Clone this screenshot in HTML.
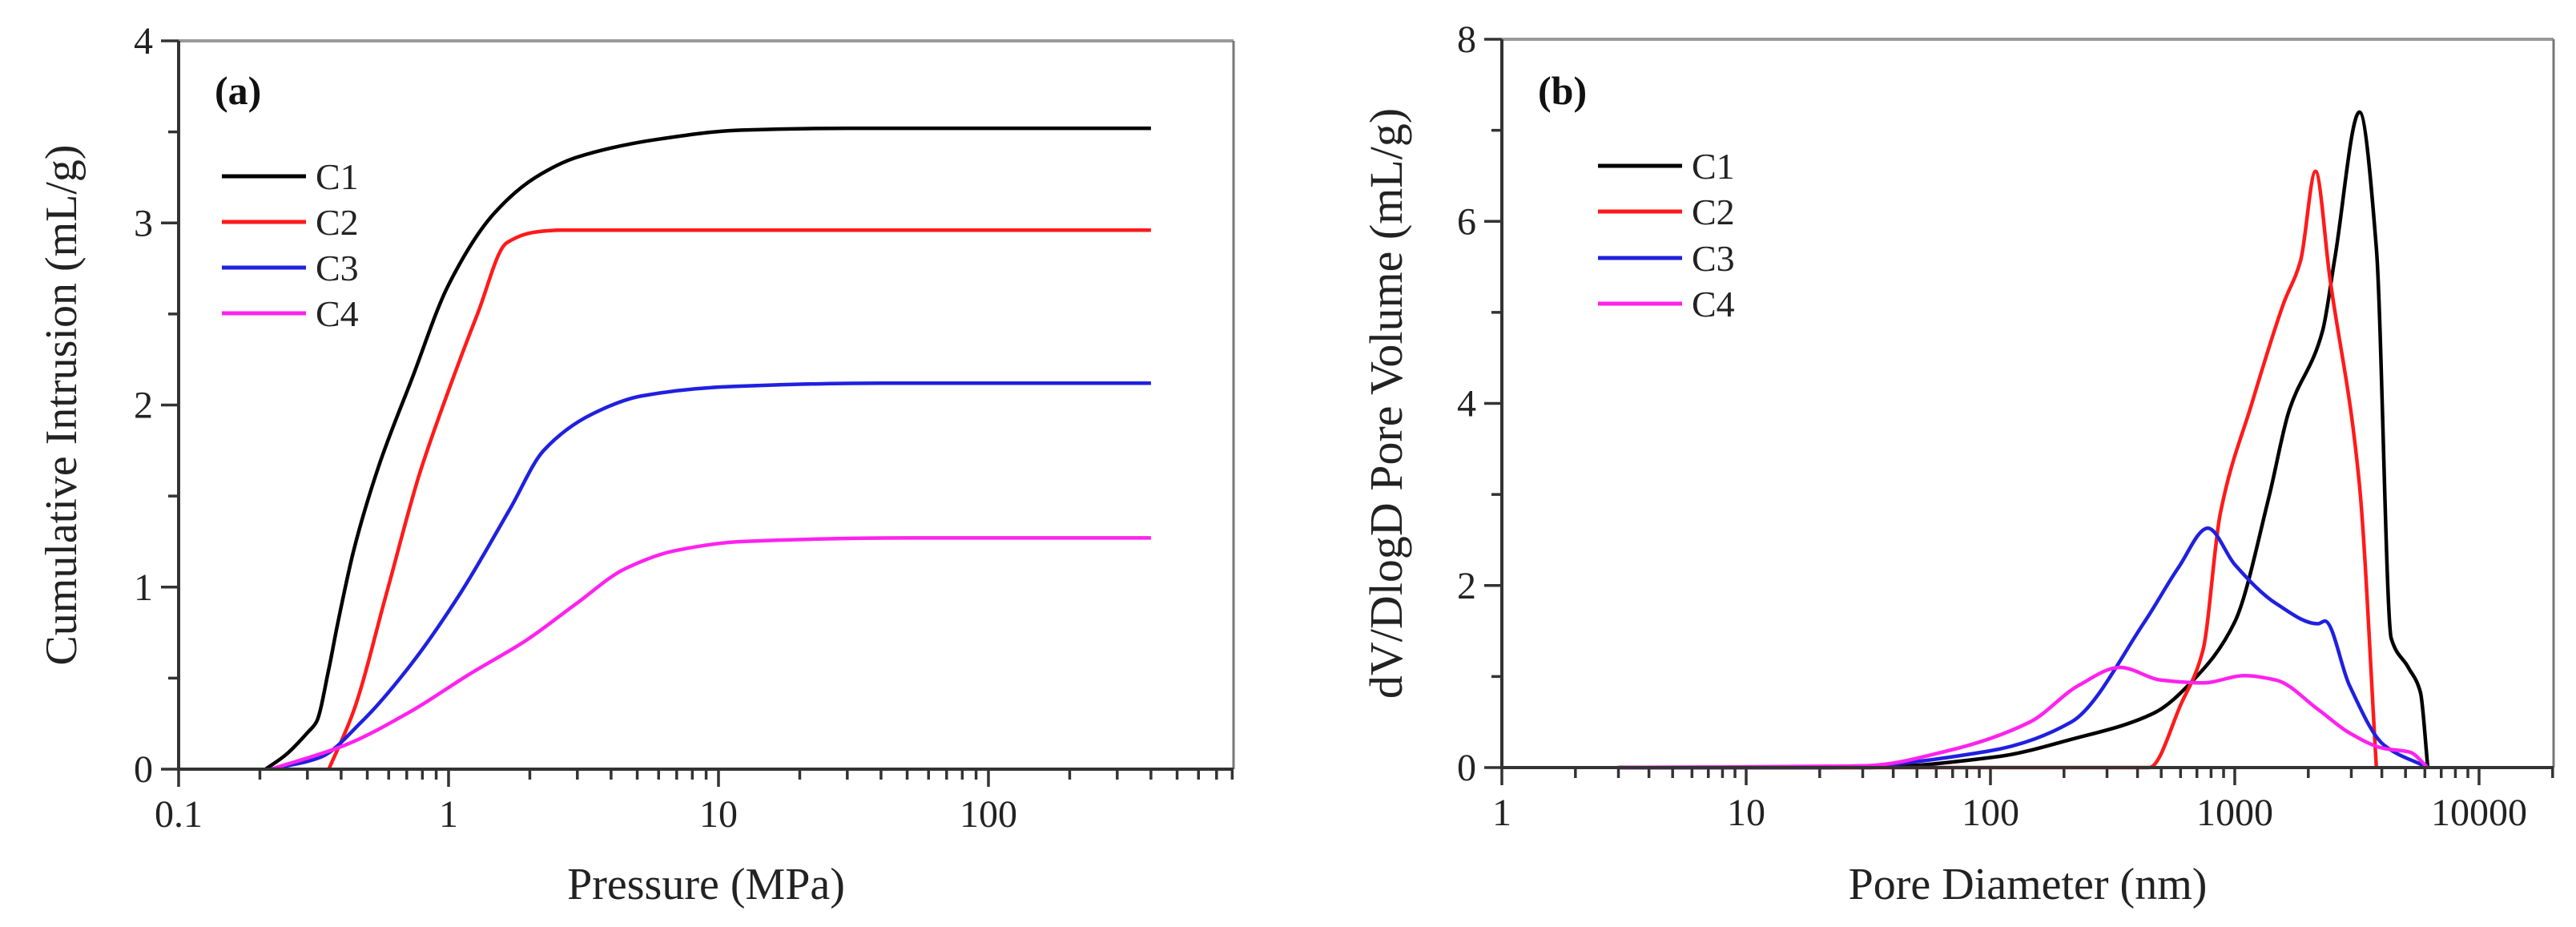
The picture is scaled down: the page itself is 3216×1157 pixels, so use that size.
<!DOCTYPE html>
<html><head><meta charset="utf-8"><style>
html,body{margin:0;padding:0;background:#fff;}
svg{display:block;font-family:"Liberation Serif",serif;}
</style></head><body>
<svg id="fig" width="3216" height="1157" viewBox="0 0 3216 1157" xmlns="http://www.w3.org/2000/svg">
<g id="chartA"></g>
<g id="chartB"></g>
</svg>
<script>
// ---- Chart (a) data ----
const aC1x=[0.21,0.25,0.3,0.324,0.36,0.386,0.445,0.55,0.73,1.0,1.47,2.1,2.98,6.0,12.2,30,100,400];
const aC1y=[0,0.08,0.2,0.26,0.55,0.78,1.2,1.66,2.14,2.66,3.05,3.25,3.36,3.46,3.51,3.52,3.52,3.52];
const aC2x=[0.36,0.445,0.59,0.78,1.0,1.28,1.64,2.1,2.6,10,100,400];
const aC2y=[0,0.32,0.97,1.62,2.08,2.5,2.89,2.95,2.96,2.96,2.96,2.96];
const aC3x=[0.22,0.335,0.476,0.73,1.11,1.69,2.25,3.4,5.2,10.6,40,400];
const aC3y=[0,0.065,0.26,0.58,0.97,1.43,1.75,1.95,2.05,2.1,2.12,2.12];
const aC4x=[0.22,0.41,0.73,1.19,1.95,2.98,4.5,6.9,12.2,50,400];
const aC4y=[0,0.13,0.32,0.52,0.71,0.91,1.1,1.2,1.25,1.27,1.27];
const aXTicks=["0.1","1","10","100"];
const aYTicks=["0","1","2","3","4"];
// ---- Chart (b) data ----
const bC1x=[3,30,107,214,468,676,1000,1380,1660,2290,2570,3240,3800,4370,5130,5750,6170];
const bC1y=[0,0,0.12,0.31,0.6,0.96,1.6,2.97,3.9,4.8,5.6,7.2,5.7,1.42,1.1,0.83,0];
const bC2x=[3,290,447,603,741,871,1175,1585,1860,2140,2450,3240,3800];
const bC2y=[0,0,0,0.7,1.29,2.78,4.0,5.1,5.57,6.55,5.38,3.1,0];
const bC3x=[3,21,98,214,427,589,776,1000,1480,2190,2340,2950,4070,6170];
const bC3y=[0,0,0.18,0.5,1.6,2.2,2.63,2.23,1.8,1.58,1.61,0.9,0.25,0];
const bC4x=[3,31,66,145,229,339,501,741,1100,1480,2190,2950,4070,5200,6170];
const bC4y=[0,0.02,0.18,0.5,0.9,1.1,0.96,0.93,1.01,0.96,0.64,0.38,0.21,0.17,0];
const bXTicks=["1","10","100","1000","10000"];
const bYTicks=["0","2","4","6","8"];

const NS="http://www.w3.org/2000/svg";
function mk(parent,tag,attrs){const e=document.createElementNS(NS,tag);for(const k in attrs)e.setAttribute(k,attrs[k]);parent.appendChild(e);return e;}
function monotone(pts){
 const n=pts.length;const dx=[],sl=[];
 for(let i=0;i<n-1;i++){dx.push(pts[i+1][0]-pts[i][0]);sl.push((pts[i+1][1]-pts[i][1])/dx[i]);}
 const m=new Array(n);m[0]=sl[0];m[n-1]=sl[n-2];
 for(let i=1;i<n-1;i++){if(sl[i-1]*sl[i]<=0)m[i]=0;else{const w1=2*dx[i]+dx[i-1],w2=dx[i]+2*dx[i-1];m[i]=(w1+w2)/(w1/sl[i-1]+w2/sl[i]);}}
 let d="M"+pts[0][0].toFixed(1)+","+pts[0][1].toFixed(1);
 for(let i=0;i<n-1;i++){const h=dx[i]/3;
  d+=" C"+(pts[i][0]+h).toFixed(1)+","+(pts[i][1]+m[i]*h).toFixed(1)+" "+(pts[i+1][0]-h).toFixed(1)+","+(pts[i+1][1]-m[i+1]*h).toFixed(1)+" "+pts[i+1][0].toFixed(1)+","+pts[i+1][1].toFixed(1);}
 return d;}

function chart(g,cfg){
 const {x0,x1,y0,y1,lmin,lmax,vmax}=cfg;
 const X=v=>x0+(Math.log10(v)-lmin)/(lmax-lmin)*(x1-x0);
 const Y=v=>y0-(v/vmax)*(y0-y1);
 let e=mk(g,"line",{x1:x0,y1:y1,x2:x1,y2:y1,stroke:"#9a9a9a","stroke-width":4});
 
 e=mk(g,"line",{x1:x1,y1:y1,x2:x1,y2:y0,stroke:"#777","stroke-width":3});
 
 cfg.series.forEach((s,si)=>{
  const pts=s.x.map((v,i)=>[X(v),Y(s.y[i])]);
  const p=mk(g,"path",{d:monotone(pts),fill:"none",stroke:s.c,"stroke-width":4.5,"stroke-linejoin":"round"});
  
  
  const ly=cfg.legY[si];
  const l=mk(g,"line",{x1:cfg.legX,y1:ly,x2:cfg.legX+105,y2:ly,stroke:s.c,"stroke-width":5});
  
  
  const t=mk(g,"text",{x:cfg.legX+117,y:ly+16,"font-size":46,fill:"#222"});t.textContent=s.n;
  
  
 });
 e=mk(g,"line",{x1:x0,y1:y0,x2:x1,y2:y0,stroke:"#333","stroke-width":4});
 
 e=mk(g,"line",{x1:x0,y1:y0+2,x2:x0,y2:y1,stroke:"#333","stroke-width":4});
 
 for(let d=Math.floor(lmin);d<=Math.ceil(lmax);d++){
  for(let m=1;m<10;m++){const v=m*Math.pow(10,d);const lv=Math.log10(v);if(lv<lmin-1e-9||lv>lmax+1e-9)continue;
   const xx=X(v);const major=m===1;
   const tk=mk(g,"line",{x1:xx,y1:y0,x2:xx,y2:y0+(major?22:13),stroke:"#333","stroke-width":3.5});
   
  }}
 cfg.xt.forEach(s=>{const xx=X(parseFloat(s));
  const t=mk(g,"text",{x:xx,y:y0+72,"font-size":48,"text-anchor":"middle",fill:"#222"});t.textContent=s;
  });
 const step=parseFloat(cfg.yt[1]);
 for(let v=0;v<=vmax+1e-9;v+=step/2){const yy=Y(v);const major=Math.abs(v/step-Math.round(v/step))<1e-6;
  const tk=mk(g,"line",{x1:x0,y1:yy,x2:x0-(major?22:13),y2:yy,stroke:"#333","stroke-width":3.5});
  }
 cfg.yt.forEach(s=>{const yy=Y(parseFloat(s));
  const t=mk(g,"text",{x:x0-32,y:yy+16,"font-size":48,"text-anchor":"end",fill:"#222"});t.textContent=s;
  });
 let t=mk(g,"text",{x:(x0+x1)/2,y:1122,"font-size":56,"text-anchor":"middle",fill:"#222"});t.textContent=cfg.xtitle;
 
 t=mk(g,"text",{x:0,y:0,"font-size":cfg.ytfs,"text-anchor":"middle",fill:"#222",transform:"translate("+cfg.ytx+","+(y0+y1)/2+") rotate(-90)"});t.textContent=cfg.ytitle;
 
 t=mk(g,"text",{x:x0+45,y:130,"font-size":50,"font-weight":"bold",fill:"#111"});t.textContent=cfg.panel;
 
}

chart(document.getElementById('chartA'),{x0:223,x1:1540,y0:960,y1:51,lmin:-1,lmax:2.908,vmax:4,
 xt:aXTicks,yt:aYTicks,xtitle:"Pressure  (MPa)",ytitle:"Cumulative Intrusion (mL/g)",ytx:95,ytfs:56,panel:"(a)",
 legX:277,legY:[220,277,334,391],
 series:[{n:"C1",c:"#000",x:aC1x,y:aC1y},{n:"C2",c:"#ff1a1a",x:aC2x,y:aC2y},{n:"C3",c:"#2020e0",x:aC3x,y:aC3y},{n:"C4",c:"#ff22ee",x:aC4x,y:aC4y}]});
chart(document.getElementById('chartB'),{x0:1875,x1:3188,y0:958,y1:49,lmin:0,lmax:4.305,vmax:8,
 xt:bXTicks,yt:bYTicks,xtitle:"Pore Diameter (nm)",ytitle:"dV/DlogD Pore Volume (mL/g)",ytx:1750,ytfs:58,panel:"(b)",
 legX:1995,legY:[207,264,322,379],
 series:[{n:"C1",c:"#000",x:bC1x,y:bC1y},{n:"C2",c:"#ff1a1a",x:bC2x,y:bC2y},{n:"C3",c:"#2020e0",x:bC3x,y:bC3y},{n:"C4",c:"#ff22ee",x:bC4x,y:bC4y}]});
</script>
</body></html>
